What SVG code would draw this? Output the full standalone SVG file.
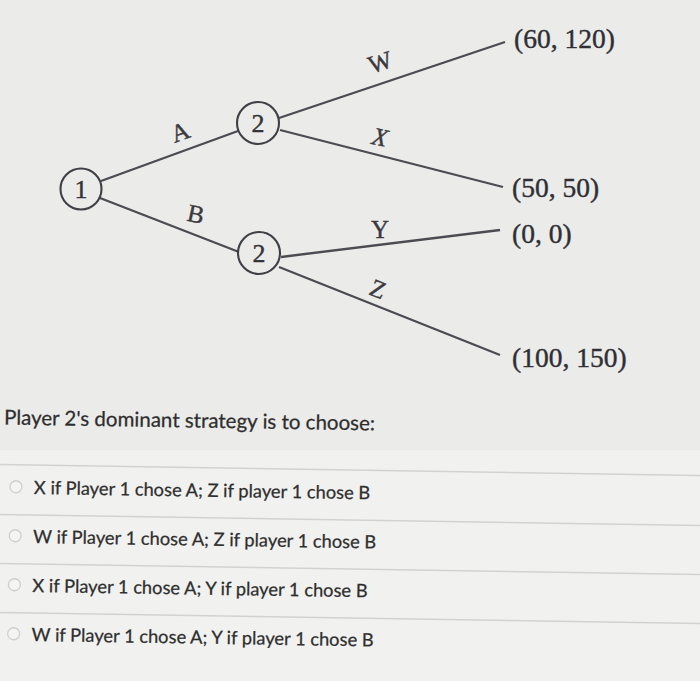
<svg xmlns="http://www.w3.org/2000/svg" width="700" height="681" viewBox="0 0 700 681">
<style>
.bg{fill:#ebebe9}
.edge{stroke:#4b4b52;stroke-width:2.3;fill:none}
.node circle{fill:#ebebe9;stroke:#3f3f46;stroke-width:2.1}
.node text{font-family:"Liberation Serif",serif;font-size:26px;fill:#333338;stroke:#333338;stroke-width:0.4;text-anchor:middle;dominant-baseline:central}
.lbl{font-family:"Liberation Serif",serif;font-size:25px;fill:#3a3a40;stroke:#3a3a40;stroke-width:0.4;text-anchor:middle;dominant-baseline:central}
.pay{font-family:"Liberation Serif",serif;font-size:27.5px;fill:#2f2f35;stroke:#2f2f35;stroke-width:0.4}
.q{font-family:Lato,"Liberation Sans",sans-serif;fill:#2e2e2e;stroke:#2e2e2e;stroke-width:0.25}
.sep{stroke:#d2d2d0;stroke-width:1.5}
.radio{fill:#f4f4f2;stroke:#cfcfcd;stroke-width:1.3}
</style>
<rect class="bg" x="0" y="0" width="700" height="681"/>
<rect x="0" y="450" width="700" height="231" fill="#f1f1ef"/>
<g id="connectors">
<line class="edge" x1="101" y1="181" x2="238" y2="131"/>
<line class="edge" x1="100" y1="198" x2="239" y2="252"/>
<line class="edge" x1="279" y1="118" x2="505" y2="42"/>
<line class="edge" x1="280" y1="130" x2="503" y2="187"/>
<line class="edge" x1="281" y1="257" x2="500" y2="230"/>
<line class="edge" x1="279" y1="267" x2="500" y2="355"/>
<text class="lbl" x="180" y="132" transform="rotate(-20 180 132)">A</text>
<text class="lbl" x="196" y="214" transform="rotate(12 196 214)">B</text>
<text class="lbl" x="380" y="62" transform="rotate(-18 380 62)">W</text>
<text class="lbl" x="380" y="137" font-style="italic" transform="rotate(12 380 137)">X</text>
<text class="lbl" x="380" y="229">Y</text>
<text class="lbl" x="378" y="289" transform="rotate(22 378 289)">Z</text>
</g>
<g id="node1" class="node"><circle cx="81" cy="189" r="20.5"/><text x="81" y="189">1</text></g>
<g id="node2a" class="node"><circle cx="258" cy="123" r="21"/><text x="258" y="123">2</text></g>
<g id="node2b" class="node"><circle cx="259" cy="253" r="21"/><text x="259" y="253">2</text></g>
<g id="payoffs">
<text class="pay" x="514" y="48">(60, 120)</text>
<text class="pay" x="512" y="197">(50, 50)</text>
<text class="pay" x="512" y="243">(0, 0)</text>
<text class="pay" x="512" y="367">(100, 150)</text>
</g>
<g id="question" transform="rotate(0.9 350 550)">
<text class="q" x="2" y="430" font-size="20.5">Player 2's dominant strategy is to choose:</text>
<line class="sep" x1="-10" y1="470" x2="710" y2="470"/>
<line class="sep" x1="-10" y1="520" x2="710" y2="520"/>
<line class="sep" x1="-10" y1="569" x2="710" y2="569"/>
<line class="sep" x1="-10" y1="618" x2="710" y2="618"/>
<circle class="radio" cx="15" cy="492" r="6"/>
<circle class="radio" cx="15" cy="541" r="6"/>
<circle class="radio" cx="15" cy="590" r="6"/>
<circle class="radio" cx="15" cy="639" r="6"/>
<text class="q" x="33" y="499" font-size="18.3">X if Player 1 chose A; Z if player 1 chose B</text>
<text class="q" x="33" y="548" font-size="18.3">W if Player 1 chose A; Z if player 1 chose B</text>
<text class="q" x="33" y="597" font-size="18.3">X if Player 1 chose A; Y if player 1 chose B</text>
<text class="q" x="33" y="646" font-size="18.3">W if Player 1 chose A; Y if player 1 chose B</text>
</g>
</svg>
